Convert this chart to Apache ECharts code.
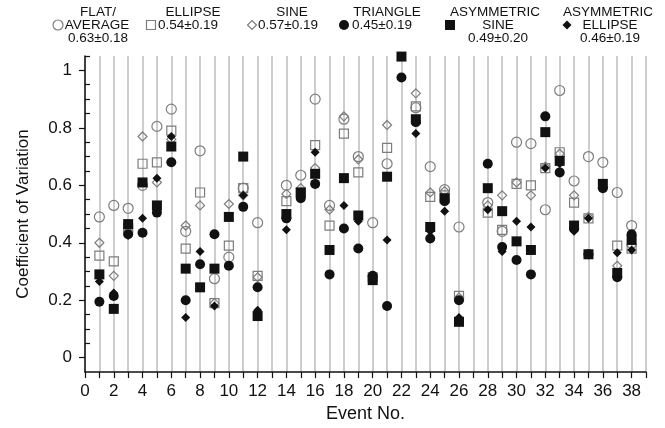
<!DOCTYPE html>
<html>
<head>
<meta charset="utf-8">
<script src="https://cdn.jsdelivr.net/npm/echarts@6/dist/echarts.min.js"></script>
<style>
  html, body { margin: 0; padding: 0; background: #fff; }
  #chart { width: 665px; height: 428px; }
</style>
</head>
<body>
<div id="chart"></div>
<script>
// event numbers 1..38
var events = [1, 2, 3, 4, 5, 6, 7, 8, 9, 10, 11, 12, 13, 14, 15, 16, 17, 18, 19, 20,
    21, 22, 23, 24, 25, 26, 27, 28, 29, 30, 31, 32, 33, 34, 35, 36, 37, 38];

// coefficient of variation per event, one array per pulse shape (null = no point)
var flatAverage = [0.49, 0.53, 0.52, 0.60, 0.805, 0.865, 0.44, 0.72, 0.275, 0.35,
    0.59, 0.47, null, 0.60, 0.635, 0.90, 0.53, 0.83, 0.70, 0.47,
    0.675, null, 0.87, 0.665, 0.585, 0.455, null, 0.54, 0.44, 0.75,
    0.745, 0.515, 0.93, 0.615, 0.70, 0.68, 0.575, 0.46];
var ellipse = [0.355, 0.335, 0.45, 0.675, 0.68, 0.79, 0.38, 0.575, 0.19, 0.39,
    0.59, 0.285, null, 0.545, 0.575, 0.74, 0.46, 0.78, 0.645, 0.28,
    0.73, null, 0.875, 0.56, 0.565, 0.215, null, 0.505, 0.445, 0.605,
    0.60, 0.66, 0.715, 0.54, 0.485, null, 0.39, 0.38];
var sine = [0.40, 0.285, 0.44, 0.77, 0.61, 0.76, 0.46, 0.53, 0.19, 0.535,
    0.565, 0.28, null, 0.57, 0.59, 0.66, 0.515, 0.84, 0.69, 0.28,
    0.81, null, 0.92, 0.575, 0.58, 0.21, null, 0.53, 0.565, 0.61,
    0.565, 0.665, 0.71, 0.565, 0.49, null, 0.32, 0.39];
var triangle = [0.195, 0.215, 0.43, 0.435, 0.505, 0.68, 0.20, 0.325, 0.43, 0.32,
    0.525, 0.245, null, 0.485, 0.555, 0.605, 0.29, 0.45, 0.38, 0.285,
    0.18, 0.975, 0.82, 0.415, 0.545, 0.20, null, 0.675, 0.385, 0.34,
    0.29, 0.84, 0.645, 0.45, 0.36, 0.59, 0.28, 0.43];
var asymSine = [0.29, 0.17, 0.465, 0.61, 0.53, 0.735, 0.31, 0.245, 0.31, 0.49,
    0.70, 0.145, null, 0.50, 0.575, 0.64, 0.375, 0.625, 0.495, 0.27,
    0.63, 1.048, 0.83, 0.455, 0.555, 0.125, null, 0.59, 0.51, 0.405,
    0.375, 0.785, 0.685, 0.46, 0.36, 0.605, 0.295, 0.41];
var asymEllipse = [0.265, 0.225, 0.425, 0.485, 0.625, 0.77, 0.14, 0.37, 0.18, 0.32,
    0.565, 0.165, null, 0.445, 0.56, 0.715, 0.375, 0.53, 0.475, 0.27,
    0.41, null, 0.78, 0.44, 0.51, 0.14, null, 0.515, 0.37, 0.475,
    0.455, 0.66, 0.675, 0.44, 0.485, null, 0.365, 0.375];

var xLabels = [0, 2, 4, 6, 8, 10, 12, 14, 16, 18, 20, 22, 24, 26, 28, 30, 32, 34, 36, 38];
var yLabels = [0, 0.2, 0.4, 0.6, 0.8, 1];
var yMinorTicks = [0.05, 0.1, 0.15, 0.25, 0.3, 0.35, 0.45, 0.5, 0.55, 0.65, 0.7, 0.75,
    0.85, 0.9, 0.95, 1.05];

function pairs(values) {
    return events.map(function (e, i) {
        return [e, values[i]];
    }).filter(function (p) { return p[1] != null; });
}

var openStyle = { color: 'rgba(0,0,0,0)', borderColor: '#7d7d7d', borderWidth: 1.2, opacity: 1 };
var fillStyle = { color: '#111', borderColor: '#111', borderWidth: 0, opacity: 1 };
var font = 'Liberation Sans, Arial, Helvetica, sans-serif';

function legendText(text, x, y, align) {
    return {
        type: 'text', x: x, y: y,
        style: {
            text: text, fill: '#111', font: '13.5px ' + font,
            align: align || 'center', verticalAlign: 'middle'
        }
    };
}

var chart = echarts.init(document.getElementById('chart'));
var option = {
    backgroundColor: '#fff',
    animation: false,
    grid: { left: 85, right: 19, top: 56, bottom: 55 },
    xAxis: {
        type: 'value',
        min: 0,
        max: 39,
        interval: 1,
        name: 'Event No.',
        nameLocation: 'middle',
        nameGap: 28,
        nameTextStyle: { fontSize: 18, color: '#111', fontFamily: font },
        axisLine: { onZero: false, lineStyle: { color: '#111', width: 1.5 } },
        axisTick: { length: 6, lineStyle: { color: '#111', width: 1.2 } },
        axisLabel: {
            customValues: xLabels, fontSize: 17, color: '#111', margin: 11, fontFamily: font
        },
        splitLine: { show: true, lineStyle: { color: '#bdbdbd', width: 1.5 } }
    },
    yAxis: [
        {
            type: 'value',
            min: -0.05,
            max: 1.05,
            interval: 0.05,
            name: 'Coefficient of Variation',
            nameLocation: 'middle',
            nameGap: 53,
            nameTextStyle: { fontSize: 17, color: '#111', fontFamily: font },
            axisLine: { show: true, onZero: false, lineStyle: { color: '#111', width: 1.5 } },
            axisTick: { customValues: yLabels, length: 6, lineStyle: { color: '#111', width: 1.2 } },
            axisLabel: {
                customValues: yLabels, fontSize: 17, color: '#111', margin: 13, fontFamily: font,
                formatter: function (v) { return v === 0 || v === 1 ? String(v) : v.toFixed(1); }
            },
            splitLine: { show: false }
        },
        {
            type: 'value',
            min: -0.05,
            max: 1.05,
            interval: 0.05,
            position: 'left',
            axisLine: { show: false },
            axisTick: {
                show: true, inside: true, customValues: yMinorTicks, length: 5,
                lineStyle: { color: '#111', width: 1.2 }
            },
            axisLabel: { show: false },
            splitLine: { show: false }
        }
    ],
    series: [
        { name: 'FLAT/AVERAGE', type: 'scatter', symbol: 'circle', symbolSize: 10,
            itemStyle: openStyle, data: pairs(flatAverage) },
        { name: 'ELLIPSE', type: 'scatter', symbol: 'rect', symbolSize: 9,
            itemStyle: openStyle, data: pairs(ellipse) },
        { name: 'SINE', type: 'scatter', symbol: 'diamond', symbolSize: 9,
            itemStyle: openStyle, data: pairs(sine) },
        { name: 'TRIANGLE', type: 'scatter', symbol: 'circle', symbolSize: 10,
            itemStyle: fillStyle, data: pairs(triangle) },
        { name: 'ASYMMETRIC SINE', type: 'scatter', symbol: 'rect', symbolSize: 10,
            itemStyle: fillStyle, data: pairs(asymSine) },
        { name: 'ASYMMETRIC ELLIPSE', type: 'scatter', symbol: 'diamond', symbolSize: 9,
            itemStyle: fillStyle, data: pairs(asymEllipse) }
    ],
    graphic: [
        // legend markers
        { type: 'circle', shape: { cx: 58, cy: 25, r: 5 },
            style: { fill: 'none', stroke: '#7d7d7d', lineWidth: 1.2 } },
        { type: 'rect', shape: { x: 146.5, y: 20.5, width: 9, height: 9 },
            style: { fill: 'none', stroke: '#7d7d7d', lineWidth: 1.2 } },
        { type: 'polygon', shape: { points: [[252, 20.5], [256.5, 25], [252, 29.5], [247.5, 25]] },
            style: { fill: 'none', stroke: '#7d7d7d', lineWidth: 1.2 } },
        { type: 'circle', shape: { cx: 344, cy: 25, r: 5 }, style: { fill: '#111' } },
        { type: 'rect', shape: { x: 445, y: 20, width: 10, height: 10 }, style: { fill: '#111' } },
        { type: 'polygon', shape: { points: [[567, 20.5], [571.5, 25], [567, 29.5], [562.5, 25]] },
            style: { fill: '#111' } },
        // legend texts
        legendText('FLAT/', 98, 12),
        legendText('AVERAGE', 97, 25),
        legendText('0.63±0.18', 98, 38),
        legendText('ELLIPSE', 193, 12),
        legendText('0.54±0.19', 158, 25, 'left'),
        legendText('SINE', 292, 12),
        legendText('0.57±0.19', 258, 25, 'left'),
        legendText('TRIANGLE', 387, 12),
        legendText('0.45±0.19', 352, 25, 'left'),
        legendText('ASYMMETRIC', 495, 12),
        legendText('SINE', 498, 25),
        legendText('0.49±0.20', 498, 38),
        legendText('ASYMMETRIC', 608, 12),
        legendText('ELLIPSE', 610, 25),
        legendText('0.46±0.19', 610, 38)
    ]
};

option && chart.setOption(option);
</script>
</body>
</html>
